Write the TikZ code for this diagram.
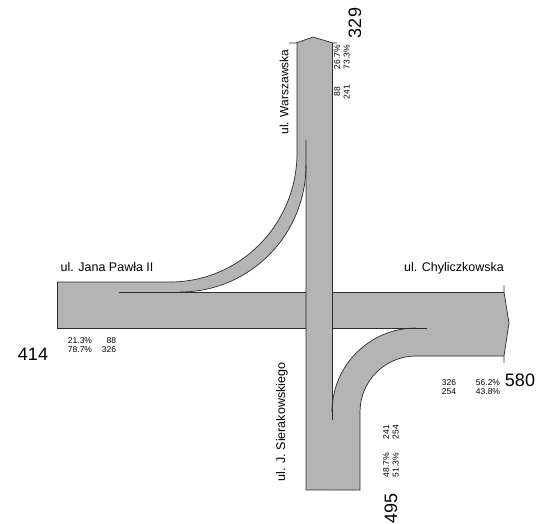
\documentclass[tikz,border=0pt]{standalone}
\usepackage{fontspec}
\setmainfont{Liberation Sans}
\definecolor{road}{RGB}{180,180,180}
\definecolor{edge}{RGB}{45,45,45}
\begin{document}
\begin{tikzpicture}[x=1pt,y=-1pt,
  band/.style={fill=road,draw=none},
  edgeline/.style={draw=edge,line width=0.7pt},
  roadname/.style={font=\fontsize{12.5}{14}\selectfont,inner sep=0pt},
  smallnum/.style={font=\fontsize{8.5}{9.5}\selectfont,inner sep=0pt,align=center},
  bignum/.style={font=\fontsize{18}{20}\selectfont,inner sep=0pt}]
\useasboundingbox (0,0) rectangle (536,524);
% fills
\fill[band] (57,282) -- (170,282) arc[start angle=90,end angle=0,x radius=127,y radius=129] -- (297,43) -- (306,43) -- (306,165) arc[start angle=0,end angle=90,x radius=126,y radius=127] -- (57,292) -- cycle;
\fill[band] (57,292) rectangle (504,328);
\fill[band] (306,43) rectangle (332,490);
\fill[band] (296,43) -- (313,37) -- (333,43) -- cycle;
\fill[band] (332,412) arc[start angle=180,end angle=270,radius=84] -- (504,328) -- (504,356) -- (416,356) arc[start angle=270,end angle=180,radius=56] -- (360,490) -- (332,490) -- cycle;
\fill[band] (504,292) -- (509,323) -- (504,356) -- cycle;
% outlines
\draw[edgeline] (57,282) -- (57,328);
\draw[edgeline] (57,282) -- (170,282) arc[start angle=90,end angle=0,x radius=127,y radius=129] -- (297,43);
\draw[edgeline] (289,43) -- (296,43) -- (313,37) -- (333,43) -- (337,43);
\draw[edgeline] (332,43) -- (332,420);
\draw[edgeline] (306,140) -- (306,490) -- (360,490) -- (360,412) arc[start angle=180,end angle=270,radius=56] -- (504,356);
\draw[edgeline] (306,165) arc[start angle=0,end angle=90,x radius=126,y radius=127];
\draw[edgeline] (119,292) -- (306,292);
\draw[edgeline] (57,328) -- (306,328);
\draw[edgeline] (332,412) arc[start angle=180,end angle=270,radius=84];
\draw[edgeline] (332,328) -- (427,328);
\draw[edgeline] (332,292) -- (504,292);
\draw[edgeline] (504,285) -- (504,292) -- (509,323) -- (504,356) -- (504,363);
% road names
\node[roadname] (jp) at (107,267) {ul. Jana Pawła II};
\node[roadname] (ch) at (454,268) {ul. Chyliczkowska};
\node[roadname,rotate=90,font=\fontsize{12}{14}\selectfont] (wa) at (284,92) {ul. Warszawska};
\node[roadname,rotate=90] (si) at (282,422) {ul. J. Sierakowskiego};
% west
\node[bignum] (w) at (33,354) {414};
\node[smallnum] (wp) at (80,345) {21.3\%\\78.7\%};
\node[smallnum,align=right] (wv) at (109,345) {88\\326};
% east
\node[smallnum] (ev) at (449,387) {326\\254};
\node[smallnum] (ep) at (488,387) {56.2\%\\43.8\%};
\node[bignum] (e) at (520,380) {580};
% north
\node[bignum,rotate=90] (n) at (355,23) {329};
\node[smallnum,rotate=90] (np) at (342,57) {26.7\%\\73.3\%};
\node[smallnum,rotate=90] (nv) at (342,92) {88\\241};
% south
\node[bignum,rotate=90] (s) at (391,508) {495};
\node[smallnum,rotate=90] (sp) at (391,465) {48.7\%\\51.3\%};
\node[smallnum,rotate=90] (sv) at (391,432) {241\\254};
\end{tikzpicture}
\end{document}
